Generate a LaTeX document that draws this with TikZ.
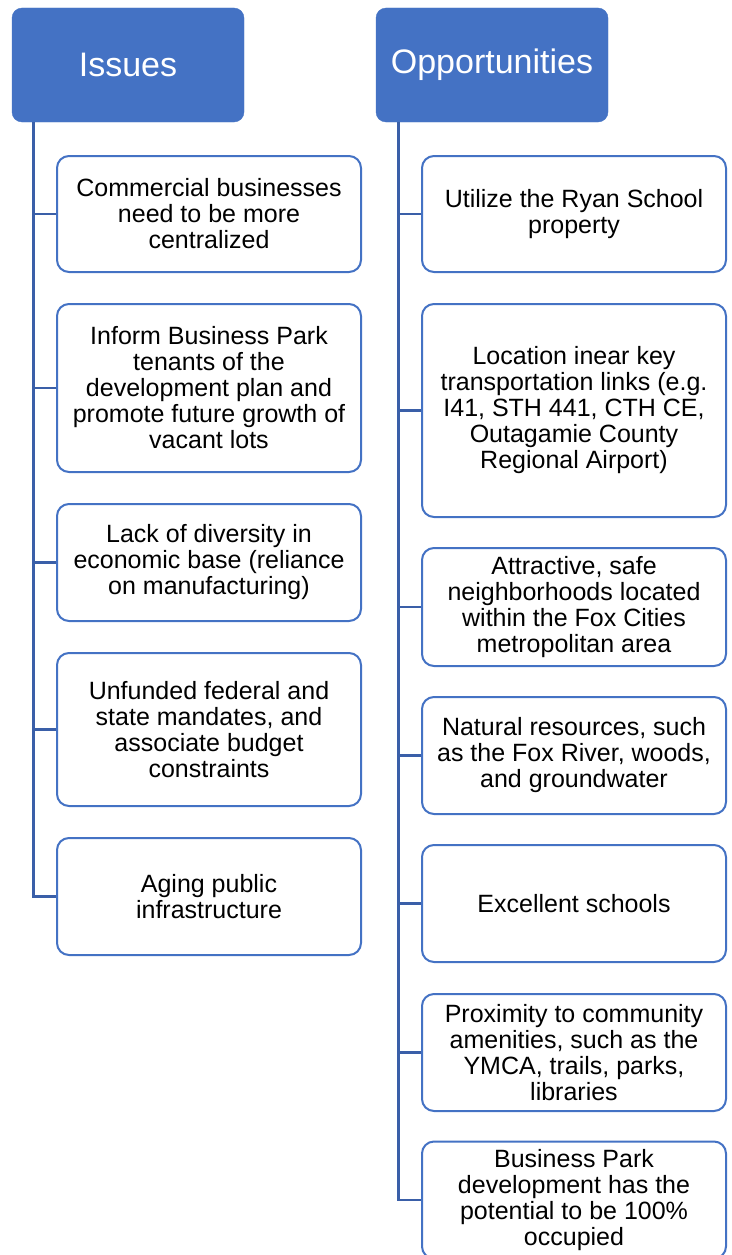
\documentclass[tikz,border=0pt]{standalone}
\usepackage{fontspec}
\setmainfont{Liberation Sans}
\definecolor{hdrblue}{HTML}{4472C4}
\definecolor{linkblue}{HTML}{3A5FA8}
\tikzset{
  head/.style = {draw = hdrblue, fill = hdrblue, rounded corners = 10pt, text = white, minimum width = 232pt, minimum height = 114pt, inner sep = 0pt, font = \fontsize{34}{39}\selectfont},
  item/.style = {draw = hdrblue, fill = white, line width = 2pt, rounded corners = 12pt, minimum width = 304pt, inner sep = 0pt, align = center, font = \fontsize{25}{26}\selectfont},
  link/.style = {draw = linkblue, line width = 2.8pt},
}
\begin{document}
\begin{tikzpicture}[x = 1pt, y = -1pt]
\useasboundingbox (0,0) rectangle (731,1255);
\node (iss) at (128,65) [head] {Issues};
\node (opp) at (492,65) [head] {Opportunities};
\node (i1) at (209,214) [item, minimum height = 116pt] {Commercial businesses\\need to be more\\centralized};
\node (i2) at (209,388) [item, minimum height = 168pt] {Inform Business Park\\tenants of the\\development plan and\\promote future growth of\\vacant lots};
\node (i3) at (209,562.5) [item, minimum height = 117pt] {Lack of diversity in\\economic base (reliance\\on manufacturing)};
\node (i4) at (209,729.5) [item, minimum height = 153pt] {Unfunded federal and\\state mandates, and\\associate budget\\constraints};
\node (i5) at (209,896.5) [item, minimum height = 117pt] {Aging public\\infrastructure};
\node (o1) at (574,214) [item, minimum height = 116pt] {Utilize the Ryan School\\property};
\node (o2) at (574,410.5) [item, minimum height = 213pt] {Location inear key\\transportation links (e.g.\\I41, STH 441, CTH CE,\\Outagamie County\\Regional Airport)};
\node (o3) at (574,607) [item, minimum height = 118pt] {Attractive, safe\\neighborhoods located\\within the Fox Cities\\metropolitan area};
\node (o4) at (574,755.5) [item, minimum height = 117pt] {Natural resources, such\\as the Fox River, woods,\\and groundwater};
\node (o5) at (574,903.5) [item, minimum height = 117pt] {Excellent schools};
\node (o6) at (574,1052.5) [item, minimum height = 117pt] {Proximity to community\\amenities, such as the\\YMCA, trails, parks,\\libraries};
\node (o7) at (574,1200) [item, minimum height = 117pt] {Business Park\\development has the\\potential to be 100\%\\occupied};
\coordinate (ltop) at ([xshift = 22pt]iss.south west);
\coordinate (rtop) at ([xshift = 23pt]opp.south west);
\draw [link] (ltop) |- (i5.west);
\foreach \n in {i1,i2,i3,i4}
  \draw [link] (\n.west) -- (\n.west -| ltop);
\draw [link] (rtop) |- (o7.west);
\foreach \n in {o1,o2,o3,o4,o5,o6}
  \draw [link] (\n.west) -- (\n.west -| rtop);
\end{tikzpicture}
\end{document}
